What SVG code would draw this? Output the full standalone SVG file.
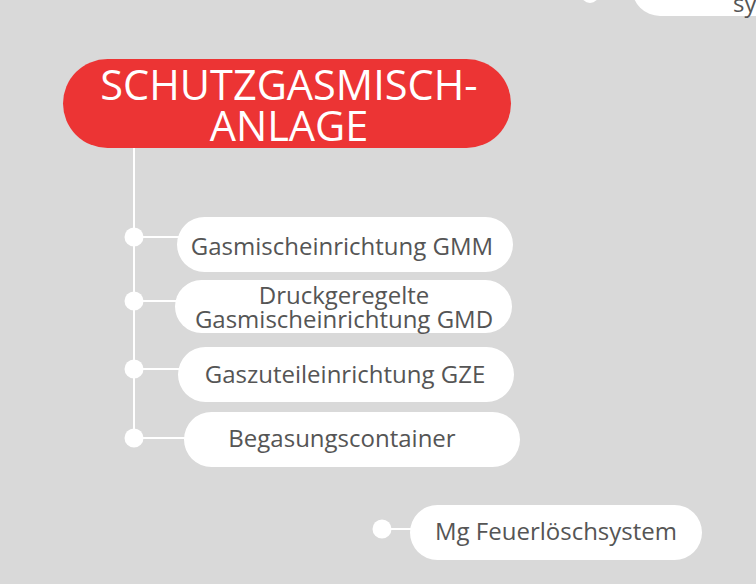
<svg xmlns="http://www.w3.org/2000/svg" width="756" height="584" viewBox="0 0 756 584">
<style>
.bg{fill:#d9d9d9}
.pill{fill:#ffffff}
.dot{fill:#ffffff}
.conn{stroke:#ffffff;stroke-width:2;fill:none}
.t{font-family:"Open Sans","Liberation Sans",sans-serif;font-size:24px;fill:#555555;text-anchor:middle}
.title{font-family:"Open Sans","Liberation Sans",sans-serif;font-size:41.5px;fill:#ffffff;text-anchor:middle}
</style>
<rect class="bg" x="0" y="0" width="756" height="584"/>
<g id="connectors">
<line class="conn" x1="134" y1="148" x2="134" y2="438"/>
<line class="conn" x1="134" y1="237" x2="180" y2="237"/>
<line class="conn" x1="134" y1="301" x2="178" y2="301"/>
<line class="conn" x1="134" y1="369" x2="181" y2="369"/>
<line class="conn" x1="134" y1="438" x2="187" y2="438"/>
<line class="conn" x1="382" y1="529" x2="413" y2="529"/>
<line class="conn" x1="590" y1="-6" x2="636" y2="-6"/>
</g>
<g id="node-top">
<circle class="dot" cx="590" cy="-6" r="9"/>
<rect class="pill" x="632" y="-40" width="160" height="56" rx="28"/>
<text class="t" x="733" y="12" style="text-anchor:start">sy</text>
</g>
<g id="node-root">
<rect x="63" y="59" width="448" height="89" rx="44.5" fill="#ec3434"/>
<text class="title" x="289" y="100">SCHUTZGASMISCH-</text>
<text class="title" x="289" y="141">ANLAGE</text>
</g>
<g id="node-gmm">
<circle class="dot" cx="134" cy="237" r="9.5"/>
<rect class="pill" x="177" y="217" width="336" height="55" rx="27.5"/>
<text class="t" x="342" y="255">Gasmischeinrichtung GMM</text>
</g>
<g id="node-gmd">
<circle class="dot" cx="134" cy="301" r="9.5"/>
<rect class="pill" x="175" y="280" width="337" height="53" rx="26.5"/>
<text class="t" x="344" y="304">Druckgeregelte</text>
<text class="t" x="344" y="328">Gasmischeinrichtung GMD</text>
</g>
<g id="node-gze">
<circle class="dot" cx="134" cy="369" r="9.5"/>
<rect class="pill" x="178" y="347" width="336" height="55" rx="27.5"/>
<text class="t" x="345" y="383">Gaszuteileinrichtung GZE</text>
</g>
<g id="node-container">
<circle class="dot" cx="134" cy="438" r="9.5"/>
<rect class="pill" x="184" y="412" width="336" height="55" rx="27.5"/>
<text class="t" x="342" y="447">Begasungscontainer</text>
</g>
<g id="node-mg">
<circle class="dot" cx="382" cy="529" r="9.5"/>
<rect class="pill" x="410" y="505" width="292" height="55" rx="27.5"/>
<text class="t" x="556" y="540">Mg Feuerlöschsystem</text>
</g>
</svg>
